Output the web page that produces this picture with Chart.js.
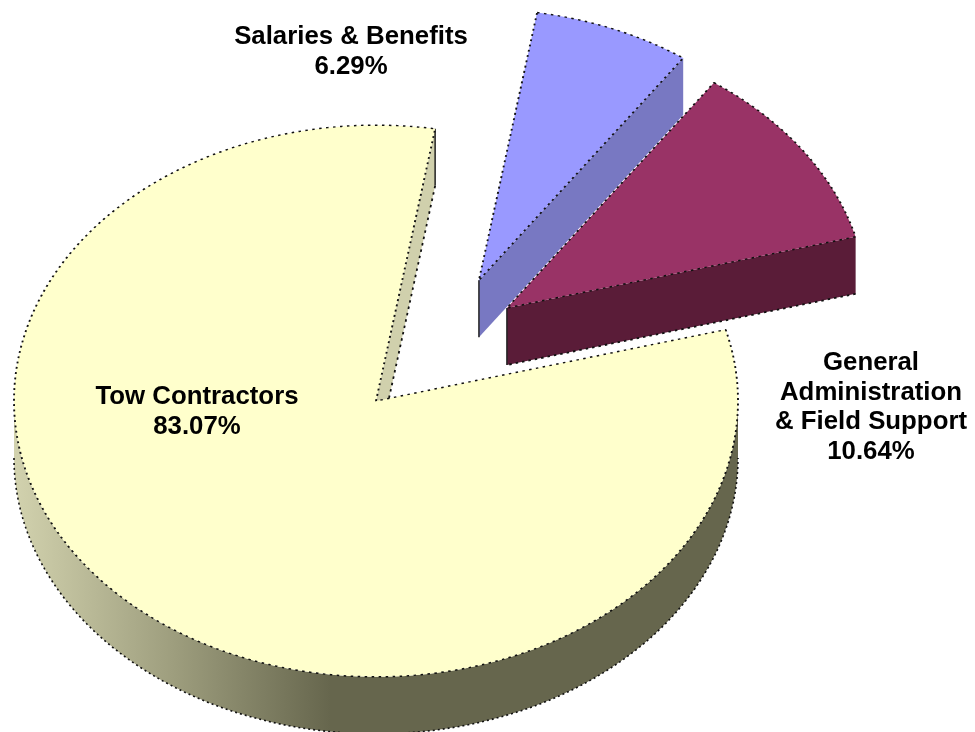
<!DOCTYPE html>
<html>
<head>
<meta charset="utf-8">
<script src="https://cdn.jsdelivr.net/npm/chart.js@4"></script>
<style>html,body{margin:0;padding:0;background:#fff}canvas{display:block}</style>
</head>
<body>
<canvas id="c" width="975" height="732"></canvas>
<script>
const categories = ['Salaries & Benefits', 'General Administration & Field Support', 'Tow Contractors'];
const shares = [6.29, 10.64, 83.07];
const labelLines = [['Salaries & Benefits'], ['General', 'Administration', '& Field Support'], ['Tow Contractors']];
const labelAnchors = [[351, 36.5], [871, 362.5], [197, 396.5]];

const topColors = ['#9999FF', '#993366', '#FFFFCC'];
const wallColors = ['#7878C2', '#5A1C38', '#D0D0AC'];
const wallOutlined = [false, true, true];
const sliceRadius = [356, 361, 362];
const explodeDistance = [189, 179, 0];
const explodeBearing = [33, 47, 0];

const FLATTEN = 0.762, DEPTH = 57, RAD = Math.PI / 180;
const PERSPECTIVE = 10.8 * RAD, PERSPECTIVE_PHASE = 121.1 * RAD;
const perspective = a => a + PERSPECTIVE * Math.sin(a + PERSPECTIVE_PHASE);

const pie3d = {
  id: 'pie3d',
  afterDatasetUpdate(chart) {
    chart.getDatasetMeta(0).data.forEach((arc, i) => {
      arc.startAngle = perspective(arc.startAngle);
      arc.endAngle = perspective(arc.endAngle);
      arc.circumference = arc.endAngle - arc.startAngle;
      arc.outerRadius = sliceRadius[i];
    });
  },
  beforeDatasetDraw(chart) {
    const ctx = chart.ctx;
    const arcs = chart.getDatasetMeta(0).data;
    [2, 0, 1].forEach(i => {
      const arc = arcs[i], r = arc.outerRadius;
      const b = explodeBearing[i] * RAD;
      const ox = arc.x + explodeDistance[i] * Math.sin(b);
      const oy = arc.y - explodeDistance[i] * Math.cos(b) * FLATTEN;
      const ry = r * FLATTEN;

      // outer rim: the part of the arc on the lower half of the ellipse
      let s = arc.startAngle, e = arc.endAngle;
      const from = Math.max(s, 0), to = Math.min(e, Math.PI);
      if (to > from) {
        const g = ctx.createLinearGradient(ox - r, 0, ox - 45, 0);
        g.addColorStop(0, '#D2D2AE');
        g.addColorStop(0.5, '#9E9E7E');
        g.addColorStop(1, '#66664D');
        ctx.beginPath();
        ctx.ellipse(ox, oy, r, ry, 0, from, to);
        ctx.ellipse(ox, oy + DEPTH, r, ry, 0, to, from, true);
        ctx.closePath();
        ctx.fillStyle = g;
        ctx.fill();
        ctx.beginPath();
        ctx.ellipse(ox, oy + DEPTH, r, ry, 0, to, from, true);
        ctx.setLineDash([2, 3]);
        ctx.lineWidth = 1.6;
        ctx.strokeStyle = '#111';
        ctx.stroke();
      }

      // cut face at the closing edge of the slice
      const rimX = ox + r * Math.cos(e), rimY = oy + ry * Math.sin(e);
      ctx.beginPath();
      ctx.moveTo(ox, oy);
      ctx.lineTo(rimX, rimY);
      ctx.lineTo(rimX, rimY + DEPTH);
      ctx.lineTo(ox, oy + DEPTH);
      ctx.closePath();
      ctx.fillStyle = wallColors[i];
      ctx.fill();
      if (wallOutlined[i]) {
        ctx.beginPath();
        ctx.moveTo(rimX, rimY + DEPTH);
        ctx.lineTo(ox, oy + DEPTH);
        ctx.setLineDash([2.5, 4]);
        ctx.lineWidth = 1.8;
        ctx.strokeStyle = '#111';
        ctx.stroke();
      }
      // solid vertical corner
      const cornerX = i === 2 ? rimX : ox;
      const cornerY = i === 2 ? rimY : oy;
      ctx.beginPath();
      ctx.moveTo(cornerX, cornerY);
      ctx.lineTo(cornerX, cornerY + DEPTH);
      ctx.setLineDash([]);
      ctx.lineWidth = 1.5;
      ctx.strokeStyle = '#222';
      ctx.stroke();

      // top face, drawn by the library's own arc element
      ctx.save();
      ctx.translate(ox, oy);
      ctx.scale(1, FLATTEN);
      ctx.translate(-arc.x, -arc.y);
      arc.draw(ctx, chart.chartArea);
      ctx.restore();
    });
    return false;
  },
  afterDatasetsDraw(chart) {
    const ctx = chart.ctx;
    ctx.save();
    ctx.setLineDash([]);
    ctx.fillStyle = '#000';
    ctx.font = 'bold 25.8px "Liberation Sans", Arial, sans-serif';
    ctx.textAlign = 'center';
    ctx.textBaseline = 'middle';
    labelLines.forEach((lines, i) => {
      const all = lines.concat([shares[i].toFixed(2) + '%']);
      all.forEach((t, n) => ctx.fillText(t, labelAnchors[i][0], labelAnchors[i][1] + n * 29.9));
    });
    ctx.restore();
  }
};

new Chart(document.getElementById('c'), {
  type: 'pie',
  data: {
    labels: categories,
    datasets: [{
      data: shares,
      backgroundColor: topColors,
      borderColor: '#111',
      borderWidth: 1.9,
      borderDash: [2.5, 4.5],
      borderAlign: 'center',
      radius: 362
    }]
  },
  options: {
    responsive: false,
    animation: false,
    events: [],
    rotation: 3.3,
    layout: { padding: { left: 0, right: 223, top: 70, bottom: 0 } },
    plugins: { legend: { display: false }, tooltip: { enabled: false } }
  },
  plugins: [pie3d]
});
</script>
</body>
</html>
